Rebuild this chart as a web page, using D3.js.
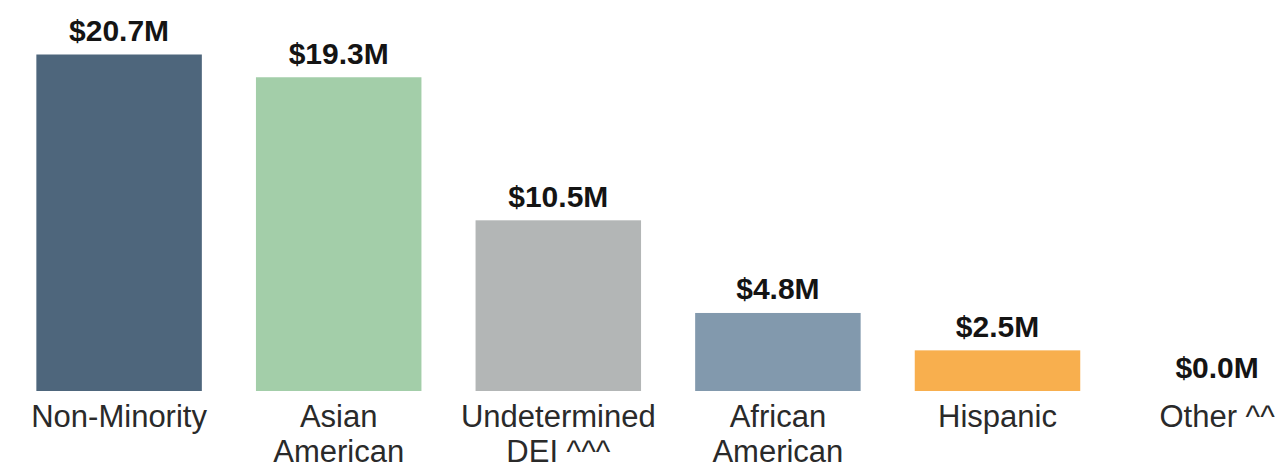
<!DOCTYPE html>
<html>
<head>
<meta charset="utf-8">
<script src="https://cdn.jsdelivr.net/npm/d3@7"></script>
<style>
  html, body { margin: 0; padding: 0; background: #ffffff; }
  svg { display: block; }
  text { font-family: "Liberation Sans", Arial, sans-serif; }
</style>
</head>
<body>
<script>
const categories = ["Non-Minority", "Asian American", "Undetermined DEI ^^^", "African American", "Hispanic", "Other ^^"];
const labelLines = [["Non-Minority"], ["Asian", "American"], ["Undetermined", "DEI ^^^"], ["African", "American"], ["Hispanic"], ["Other ^^"]];
const values = [20.7, 19.3, 10.5, 4.8, 2.5, 0.0];
const colors = ["#4e667c", "#a3cea9", "#b3b6b6", "#8299ad", "#f8af4e", "#cccccc"];

const W = 1275, H = 469;
const svg = d3.select("body").append("svg").attr("width", W).attr("height", H);

const x = d3.scaleBand()
  .domain(categories)
  .range([9.3, 9.3 + 6 * 219.6])
  .paddingInner(0.2464)
  .paddingOuter(0.1232);

const baseline = 391;
const y = d3.scaleLinear().domain([0, 20.7]).range([baseline, 54.5]);

const data = categories.map((c, i) => ({ c, v: values[i], color: colors[i], lines: labelLines[i] }));

svg.selectAll("rect.bar").data(data).enter().append("rect")
  .attr("class", "bar")
  .attr("x", d => x(d.c))
  .attr("width", x.bandwidth())
  .attr("y", d => y(d.v))
  .attr("height", d => baseline - y(d.v))
  .attr("fill", d => d.color);

svg.selectAll("text.val").data(data).enter().append("text")
  .attr("class", "val")
  .attr("x", d => x(d.c) + x.bandwidth() / 2)
  .attr("y", d => y(d.v) - 13.5)
  .attr("text-anchor", "middle")
  .attr("font-size", 30)
  .attr("font-weight", "bold")
  .attr("fill", "#141414")
  .text(d => "$" + d.v.toFixed(1) + "M");

const lbl = svg.selectAll("text.cat").data(data).enter().append("text")
  .attr("class", "cat")
  .attr("x", d => x(d.c) + x.bandwidth() / 2)
  .attr("y", 427)
  .attr("text-anchor", "middle")
  .attr("font-size", 31)
  .attr("fill", "#2a2a2a");

lbl.selectAll("tspan").data(d => d.lines.map(l => ({ l, cx: x(d.c) + x.bandwidth() / 2 }))).enter().append("tspan")
  .attr("x", d => d.cx)
  .attr("dy", (d, i) => i === 0 ? 0 : 35)
  .text(d => d.l);
</script>
</body>
</html>
